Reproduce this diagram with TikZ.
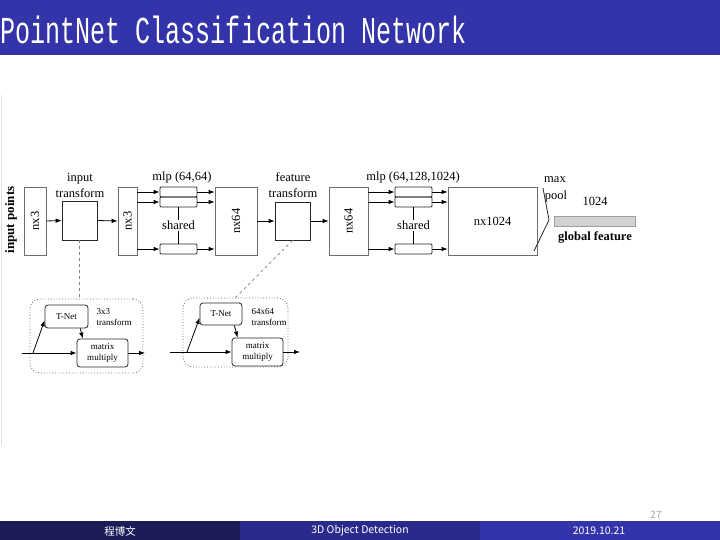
\documentclass[tikz,border=0pt]{standalone}
\usepackage{fontspec}
\setmainfont{Liberation Serif}
\newfontfamily\titlefont{Liberation Mono}
\newfontfamily\cjk{Noto Sans CJK SC}
\usetikzlibrary{calc,arrows.meta}
\definecolor{titleblue}{RGB}{51,51,170}
\definecolor{footdark}{RGB}{28,28,88}
\definecolor{footmid}{RGB}{42,42,140}
\definecolor{footlight}{RGB}{51,51,170}
\definecolor{edgegray}{RGB}{110,110,110}

\begin{document}
\begin{tikzpicture}[x=1pt, y=-1pt, >={Latex[length=6pt,width=4.5pt]}, line width=0.8pt,
    layerbox/.style={draw=edgegray, line width=0.7pt, minimum height=68, inner sep=0},
    mlpbox/.style={draw=black!85, rounded corners=1pt, minimum width=37, minimum height=10, inner sep=0},
    tnetbox/.style={draw=black!85, rounded corners=3pt, inner sep=0, font=\fontsize{9}{11}\selectfont},
    tnetframe/.style={draw=gray!80!black, dotted, line width=0.8pt, rounded corners=10pt, inner sep=0},
    lbl/.style={font=\fontsize{12.5}{16}\selectfont},
    smalllbl/.style={font=\fontsize{9}{11}\selectfont, align=left, anchor=west},
    footlbl/.style={font=\cjk\fontsize{10.5}{12}\selectfont, text=white}]
    \useasboundingbox (0,0) rectangle (720,540);

    % slide frame
    \fill[titleblue] (0,0) rectangle (720,55);
    \node[anchor=west, text=white, inner sep=0, xscale=0.66, font=\titlefont\fontsize{38}{40}\selectfont] (title) at (0,30) {PointNet Classification Network};
    \fill[footdark] (0,521) rectangle (240,540);
    \fill[footmid] (240,521) rectangle (480,540);
    \fill[footlight] (480,521) rectangle (720,540);
    \node[footlbl] (author) at (120,531) {程博文};
    \node[footlbl] (topic) at (360,531) {3D Object Detection};
    \node[footlbl] (date) at (599,531) {2019.10.21};
    \node[font=\cjk\fontsize{10}{12}\selectfont, text=gray!70] (pageno) at (656,515) {27};
    \draw[gray!25, line width=1.5] (1.5,95) -- (1.5,445);

    % top row
    \node[rotate=90, font=\bfseries\fontsize{13}{15}\selectfont] (inpts) at (11,220) {input points};
    \node[layerbox, minimum width=22] (p1) at (35,221) {};
    \node[lbl, rotate=90] (p1t) at (p1) {nx3};
    \node[layerbox, draw=black!85, minimum width=35, minimum height=39] (it) at (79.5,220.5) {};
    \node[lbl, align=center] (itl) at (80,185) {input\\transform};
    \node[layerbox, minimum width=19] (p2) at (127.5,221) {};
    \node[lbl, rotate=90] (p2t) at (p2) {nx3};
    \node[lbl] (mlp1) at (182,177) {mlp (64,64)};
    \node[mlpbox] (m1a) at (178.5,192) {};
    \node[mlpbox] (m1b) at (178.5,202) {};
    \node[mlpbox] (m1c) at (178.5,249) {};
    \node[layerbox, minimum width=42] (p3) at (236,221) {};
    \node[lbl, rotate=90] (p3t) at (p3) {nx64};
    \node[layerbox, draw=black!85, minimum width=35, minimum height=38] (ft) at (292.5,221) {};
    \node[lbl, align=center] (ftl) at (293,185) {feature\\transform};
    \node[layerbox, minimum width=39] (p4) at (348.5,221) {};
    \node[lbl, rotate=90] (p4t) at (p4) {nx64};
    \node[lbl] (mlp2) at (413,177) {mlp (64,128,1024)};
    \node[mlpbox] (m2a) at (413.5,192) {};
    \node[mlpbox] (m2b) at (413.5,202) {};
    \node[mlpbox] (m2c) at (413.5,249) {};
    \node[layerbox, lbl, minimum width=89] (p5) at (492.5,221) {nx1024};
    \node[lbl] (maxl) at (555,180) {max};
    \node[lbl] (pooll) at (556,196) {pool};
    \node[lbl] (dim) at (595,201) {1024};
    \node[draw=gray!75, fill=gray!35, minimum width=81, minimum height=10, inner sep=0] (gf) at (594.5,221) {};
    \node[font=\bfseries\fontsize{12.5}{15}\selectfont] (gfl) at (595,237) {global feature};

    \draw[->] (p1.east) -- (it.west);
    \draw[->] (it.east) -- (p2.west);
    \foreach \r in {a,b,c} {
      \draw[->] (p2.east |- m1\r.west) -- (m1\r.west);
      \draw[->] (m1\r.east) -- (p3.west |- m1\r.east);
      \draw[->] (p4.east |- m2\r.west) -- (m2\r.west);
      \draw[->] (m2\r.east) -- (p5.west |- m2\r.east);
    }
    \draw (m1b.south) -- node[lbl, fill=white, inner sep=1pt] (sh1) {shared} (m1c.north);
    \draw (m2b.south) -- node[lbl, fill=white, inner sep=1pt] (sh2) {shared} (m2c.north);
    \draw[->] (p3.east) -- (ft.west);
    \draw[->] (ft.east) -- (p4.west);
    \draw[black!85] (543,188) -- (549,220) -- (534,251);

    % input transform detail
    \node[tnetframe, minimum width=113, minimum height=74] (tb1) at (86.5,336) {};
    \node[tnetbox, minimum width=43, minimum height=23] (tn1) at (66.5,316.5) {T-Net};
    \node[tnetbox, minimum width=51, minimum height=28, align=center] (mm1) at (102.5,353) {matrix\\multiply};
    \node[smalllbl] (tf1) at (93,317) {3x3\\transform};
    \coordinate (in1) at (22,353);
    \coordinate (br1) at (33,353);
    \coordinate (out1) at (145,353);
    \draw[->] (in1) -- (mm1.west);
    \draw[->] (br1) -- (tn1.190);
    \draw[->] ($(tn1.south east)+(-8,0)$) -- ($(mm1.north west)+(6,0)$);
    \draw[->] (mm1.east) -- (out1);

    % feature transform detail
    \node[tnetframe, minimum width=105, minimum height=69] (tb2) at (235.5,332.5) {};
    \node[tnetbox, minimum width=42, minimum height=22] (tn2) at (221,314) {T-Net};
    \node[tnetbox, minimum width=51, minimum height=28, align=center] (mm2) at (257.5,352) {matrix\\multiply};
    \node[smalllbl] (tf2) at (248,317) {64x64\\transform};
    \coordinate (in2) at (170,352);
    \coordinate (br2) at (187,352);
    \coordinate (out2) at (300,352);
    \draw[->] (in2) -- (mm2.west);
    \draw[->] (br2) -- (tn2.190);
    \draw[->] ($(tn2.south east)+(-8,0)$) -- ($(mm2.north west)+(6,0)$);
    \draw[->] (mm2.east) -- (out2);

    \draw[dashed, gray, line width=0.7pt] (it.south) -- (it.south |- tb1.north);
    \draw[dashed, gray, line width=0.7pt] (ft.south) -- (tb2.north);
\end{tikzpicture}
\end{document}
